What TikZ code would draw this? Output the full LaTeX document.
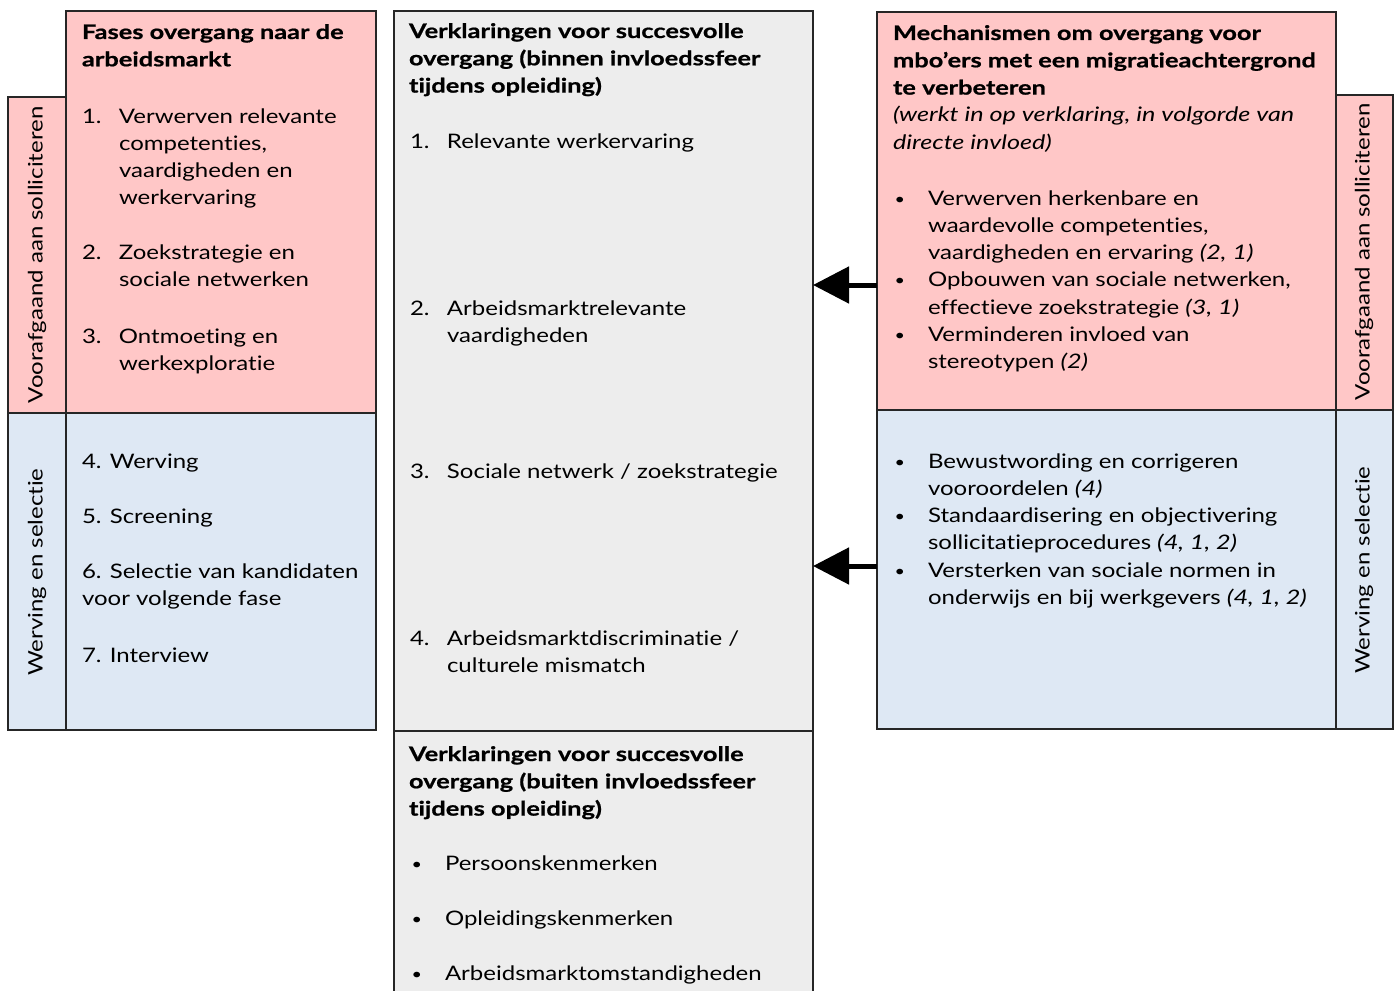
\documentclass[tikz,border=0pt]{standalone}
\usepackage{fontspec}
\setmainfont{Lato}[FakeStretch=1.2, Ligatures=NoCommon,
  BoldFeatures={FakeStretch=1.27, FakeBold=0.8},
  ItalicFeatures={FakeStretch=1.26}]
\usetikzlibrary{arrows.meta}
\definecolor{pinkc}{HTML}{FFC7C7}
\definecolor{bluec}{HTML}{DEE8F4}
\definecolor{grayc}{HTML}{EDEDED}
\definecolor{linec}{HTML}{262626}
\newcommand\fs{\fontsize{20}{27.3}\selectfont}
\newcommand\tb[1]{\begin{tabular}[t]{@{}l@{}}#1\end{tabular}}
\newcommand\nit[2]{\begin{tabular}[t]{@{}p{37pt}@{}l@{}}#1&#2\end{tabular}}
\newcommand\bul{\begin{tabular}[t]{@{}p{35pt}@{}l@{}}}
\newcommand\eul{\end{tabular}}
\newcommand\bu{\hspace*{1.5pt}{\fontsize{15}{15}\selectfont\raisebox{1pt}{•}}}
\begin{document}
\begin{tikzpicture}[x=1pt,y=-1pt,
  box/.style={draw=linec, line width=1.6pt, inner sep=0pt, outer sep=0pt, anchor=north west},
  pinkbox/.style={box, fill=pinkc},
  bluebox/.style={box, fill=bluec},
  graybox/.style={box, fill=grayc},
  txt/.style={anchor=base west, inner sep=0pt, outer sep=0pt, font=\fs},
  side/.style={rotate=90, inner sep=0pt, font=\fs},
  arr/.style={line width=5pt, -{Triangle[length=36pt,width=36pt]}}]
\useasboundingbox (0,0) rectangle (1399,990);
\clip (0,0) rectangle (1399,990);
\fill[white] (0,0) rectangle (1399,990);

% left column
\node[pinkbox, minimum width=58pt, minimum height=316pt] (LPl) at (8,97) {};
\node[bluebox, minimum width=58pt, minimum height=317pt] (LBl) at (8,413) {};
\node[pinkbox, minimum width=310pt, minimum height=402pt] (LP) at (66,11) {};
\node[bluebox, minimum width=310pt, minimum height=317pt] (LB) at (66,413) {};

% middle column
\node[graybox, minimum width=419pt, minimum height=720pt] (M1) at (394,11) {};
\node[graybox, minimum width=419pt, minimum height=280pt] (M2) at (394,731) {};

% right column
\node[pinkbox, minimum width=57pt, minimum height=315pt] (RPl) at (1336,95) {};
\node[bluebox, minimum width=57pt, minimum height=319pt] (RBl) at (1336,410) {};
\node[pinkbox, minimum width=459pt, minimum height=398pt] (RP) at (877,12) {};
\node[bluebox, minimum width=459pt, minimum height=319pt] (RB) at (877,410) {};

% side labels
\node[side] (tLPl) at (37,255) {Voorafgaand aan solliciteren};
\node[side] (tLBl) at (37,572) {Werving en selectie};
\node[side] (tRPl) at (1364,252) {Voorafgaand aan solliciteren};
\node[side] (tRBl) at (1364,570) {Werving en selectie};

% left texts
\node[txt] (tLP0) at (82,39) {\tb{\bfseries Fases overgang naar de\\\bfseries arbeidsmarkt}};
\node[txt] (tLP1) at (82,123) {\nit{1.}{Verwerven relevante\\&competenties,\\&vaardigheden en\\&werkervaring}};
\node[txt] (tLP2) at (82,259) {\nit{2.}{Zoekstrategie en\\&sociale netwerken}};
\node[txt] (tLP3) at (82,343) {\nit{3.}{Ontmoeting en\\&werkexploratie}};
\node[txt] (tLB4) at (82,468) {4. Werving};
\node[txt] (tLB5) at (82,523) {5. Screening};
\node[txt] (tLB6) at (82,578) {\tb{6. Selectie van kandidaten\\voor volgende fase}};
\node[txt] (tLB7) at (82,662) {7. Interview};

% middle texts
\node[txt] (tM0) at (409,38) {\tb{\bfseries Verklaringen voor succesvolle\\\bfseries overgang (binnen invloedssfeer\\\bfseries tijdens opleiding)}};
\node[txt] (tM1) at (410,148) {\nit{1.}{Relevante werkervaring}};
\node[txt] (tM2) at (410,315) {\nit{2.}{Arbeidsmarktrelevante\\&vaardigheden}};
\node[txt] (tM3) at (410,478) {\nit{3.}{Sociale netwerk / zoekstrategie}};
\node[txt] (tM4) at (410,645) {\nit{4.}{Arbeidsmarktdiscriminatie /\\&culturele mismatch}};
\node[txt] (tN0) at (409,761) {\tb{\bfseries Verklaringen voor succesvolle\\\bfseries overgang (buiten invloedssfeer\\\bfseries tijdens opleiding)}};
\node[txt] (tN1) at (410,870) {\bul \bu&Persoonskenmerken\eul};
\node[txt] (tN2) at (410,925) {\bul \bu&Opleidingskenmerken\eul};
\node[txt] (tN3) at (410,980) {\bul \bu&Arbeidsmarktomstandigheden\eul};

% right texts
\node[txt] (tRP0) at (893,40) {\tb{\bfseries Mechanismen om overgang voor\\\bfseries mbo’ers met een migratieachtergrond\\\bfseries te verbeteren\\\itshape (werkt in op verklaring, in volgorde van\\\itshape directe invloed)}};
\node[txt] (tRP1) at (893,205) {\bul \bu&Verwerven herkenbare en\\&waardevolle competenties,\\&vaardigheden en ervaring \textit{(2, 1)}\\\bu&Opbouwen van sociale netwerken,\\&effectieve zoekstrategie \textit{(3, 1)}\\\bu&Verminderen invloed van\\&stereotypen \textit{(2)}\eul};
\node[txt] (tRB1) at (893,468) {\bul \bu&Bewustwording en corrigeren\\&vooroordelen \textit{(4)}\\\bu&Standaardisering en objectivering\\&sollicitatieprocedures \textit{(4, 1, 2)}\\\bu&Versterken van sociale normen in\\&onderwijs en bij werkgevers \textit{(4, 1, 2)}\eul};

% arrows
\coordinate (ya) at (0,285);
\coordinate (yb) at (0,566);
\draw[arr] (RP.west |- ya) -- (M1.east |- ya);
\draw[arr] (RB.west |- yb) -- (M1.east |- yb);
\end{tikzpicture}
\end{document}
